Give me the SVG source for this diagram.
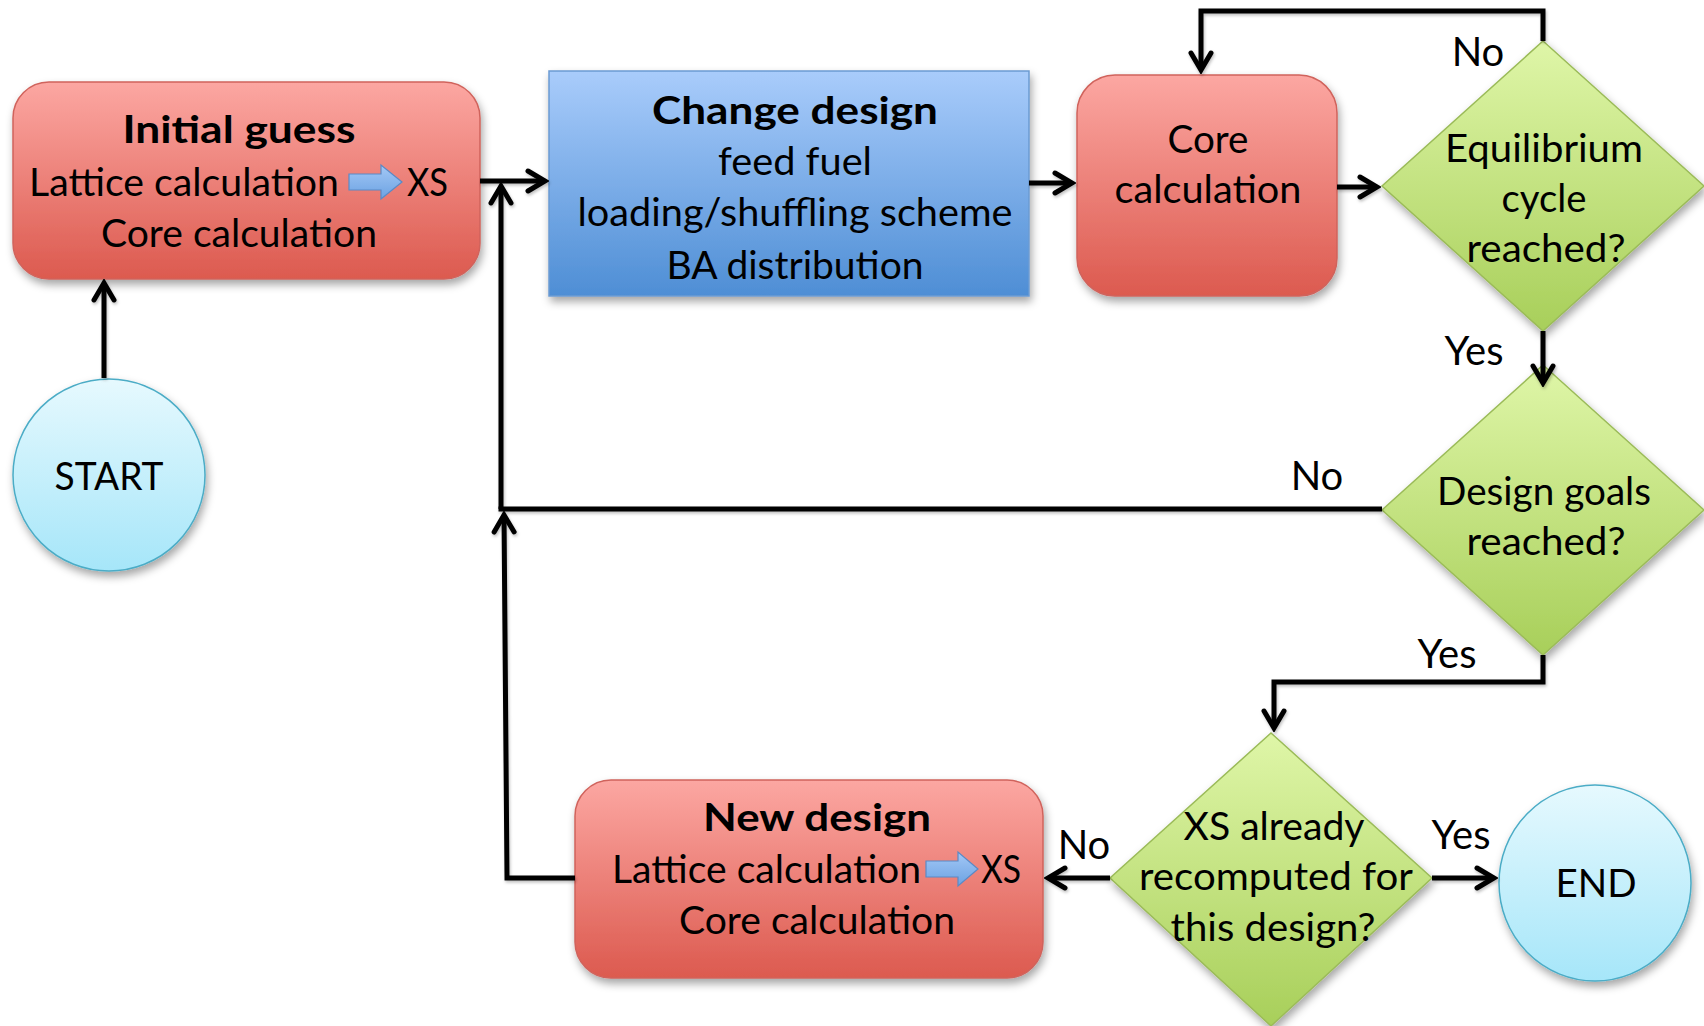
<svg xmlns="http://www.w3.org/2000/svg" width="1704" height="1026" viewBox="0 0 1704 1026">
  <style>
    .t { font-family: Lato, "Open Sans", "Liberation Sans", sans-serif; font-size: 38px; fill: #000; text-anchor: middle; }
    .lab { font-size: 40px; }
    .b { font-weight: bold; }
    .l { text-anchor: start; }
    .red { fill: url(#gRed); stroke: #D0635C; stroke-width: 1.5; filter: url(#shadow); }
    .blue { fill: url(#gBlue); stroke: #6B9BD2; stroke-width: 1.5; filter: url(#shadow); }
    .green { fill: url(#gGreen); stroke: #9BBB59; stroke-width: 1.5; filter: url(#shadow); }
    .cyan { fill: url(#gCyan); stroke: #4BACC6; stroke-width: 1.5; filter: url(#shadow); }
    .conn { fill: none; stroke: #000; stroke-width: 5; }
    .arr { marker-end: url(#head); }
    .xsArrow { fill: url(#gArrow); stroke: #5A8AC6; stroke-width: 1.2; }
  </style>
  <defs>
    <linearGradient id="gRed" x1="0" y1="0" x2="0" y2="1">
      <stop offset="0" stop-color="#FCA7A2"/>
      <stop offset="1" stop-color="#DC5A4F"/>
    </linearGradient>
    <linearGradient id="gBlue" x1="0" y1="0" x2="0" y2="1">
      <stop offset="0" stop-color="#A9CCFB"/>
      <stop offset="1" stop-color="#4E8ED5"/>
    </linearGradient>
    <linearGradient id="gGreen" x1="0" y1="0" x2="0" y2="1">
      <stop offset="0" stop-color="#DFF6A8"/>
      <stop offset="1" stop-color="#A8CF5A"/>
    </linearGradient>
    <linearGradient id="gCyan" x1="0" y1="0" x2="0" y2="1">
      <stop offset="0" stop-color="#E6F9FE"/>
      <stop offset="1" stop-color="#A6E6F9"/>
    </linearGradient>
    <linearGradient id="gArrow" x1="0" y1="0" x2="0" y2="1">
      <stop offset="0" stop-color="#A4C8F6"/>
      <stop offset="1" stop-color="#6BA2E2"/>
    </linearGradient>
    <filter id="shadow" x="-10%" y="-10%" width="125%" height="130%">
      <feDropShadow dx="2" dy="5" stdDeviation="4" flood-color="#000" flood-opacity="0.35"/>
    </filter>
    <filter id="lineShadow" x="-5%" y="-5%" width="110%" height="110%">
      <feDropShadow dx="1" dy="2" stdDeviation="1.5" flood-color="#000" flood-opacity="0.25"/>
    </filter>
    <marker id="head" viewBox="-24 -16 28 32" markerWidth="28" markerHeight="32" refX="0" refY="0" orient="auto" markerUnits="userSpaceOnUse">
      <path d="M-17,-10 L0,0 L-17,10" fill="none" stroke="#000" stroke-width="5" stroke-linecap="round" stroke-linejoin="miter"/>
    </marker>
  </defs>

  <rect width="1704" height="1026" fill="#fff"/>

  <g id="start">
    <circle class="cyan" cx="109" cy="475" r="96"/>
    <text class="t" x="109" y="490" textLength="109" lengthAdjust="spacingAndGlyphs">START</text>
  </g>

  <g id="initial-guess">
    <rect class="red" x="13" y="82" width="467" height="197" rx="36"/>
    <text class="t b" x="239" y="143" textLength="233" lengthAdjust="spacingAndGlyphs">Initial guess</text>
    <text class="t l" x="29" y="196" textLength="310" lengthAdjust="spacingAndGlyphs">Lattice calculation</text>
    <path class="xsArrow" d="M349,174 L381,174 L381,165 L402,182 L381,199 L381,190 L349,190 Z"/>
    <text class="t l" x="407" y="196" textLength="41" lengthAdjust="spacingAndGlyphs">XS</text>
    <text class="t" x="239" y="247" textLength="276" lengthAdjust="spacingAndGlyphs">Core calculation</text>
  </g>

  <g id="change-design">
    <rect class="blue" x="549" y="71" width="480" height="225"/>
    <text class="t b" x="795" y="124" textLength="286" lengthAdjust="spacingAndGlyphs">Change design</text>
    <text class="t" x="795" y="175" textLength="154" lengthAdjust="spacingAndGlyphs">feed fuel</text>
    <text class="t" x="795" y="226" textLength="435" lengthAdjust="spacingAndGlyphs">loading/shuffling scheme</text>
    <text class="t" x="795" y="279" textLength="257" lengthAdjust="spacingAndGlyphs">BA distribution</text>
  </g>

  <g id="core-calculation">
    <rect class="red" x="1077" y="75" width="260" height="221" rx="38"/>
    <text class="t" x="1208" y="153" textLength="81" lengthAdjust="spacingAndGlyphs">Core</text>
    <text class="t" x="1208" y="203" textLength="187" lengthAdjust="spacingAndGlyphs">calculation</text>
  </g>

  <g id="equilibrium">
    <polygon class="green" points="1543,41 1704,186 1543,331 1382,186"/>
    <text class="t" x="1544" y="162" textLength="198" lengthAdjust="spacingAndGlyphs">Equilibrium</text>
    <text class="t" x="1544" y="212" textLength="85" lengthAdjust="spacingAndGlyphs">cycle</text>
    <text class="t" x="1546" y="262" textLength="159" lengthAdjust="spacingAndGlyphs">reached?</text>
  </g>

  <g id="design-goals">
    <polygon class="green" points="1543,365 1704,510 1543,655 1382,510"/>
    <text class="t" x="1544" y="505" textLength="214" lengthAdjust="spacingAndGlyphs">Design goals</text>
    <text class="t" x="1546" y="555" textLength="159" lengthAdjust="spacingAndGlyphs">reached?</text>
  </g>

  <g id="xs-recomputed">
    <polygon class="green" points="1271,733 1432,878 1271,1026 1110,878"/>
    <text class="t" x="1274" y="840" textLength="181" lengthAdjust="spacingAndGlyphs">XS already</text>
    <text class="t" x="1276" y="890" textLength="274" lengthAdjust="spacingAndGlyphs">recomputed for</text>
    <text class="t" x="1273" y="941" textLength="205" lengthAdjust="spacingAndGlyphs">this design?</text>
  </g>

  <g id="end">
    <ellipse class="cyan" cx="1595" cy="883" rx="96" ry="98"/>
    <text class="t" x="1596" y="897" textLength="81" lengthAdjust="spacingAndGlyphs">END</text>
  </g>

  <g id="new-design">
    <rect class="red" x="575" y="780" width="468" height="198" rx="36"/>
    <text class="t b" x="817" y="831" textLength="228" lengthAdjust="spacingAndGlyphs">New design</text>
    <text class="t l" x="612" y="883" textLength="309" lengthAdjust="spacingAndGlyphs">Lattice calculation</text>
    <path class="xsArrow" d="M926,861 L958,861 L958,852 L978,869 L958,886 L958,877 L926,877 Z"/>
    <text class="t l" x="981" y="883" textLength="40" lengthAdjust="spacingAndGlyphs">XS</text>
    <text class="t" x="817" y="934" textLength="276" lengthAdjust="spacingAndGlyphs">Core calculation</text>
  </g>

  <!-- connectors, drawn over the shapes -->
  <g id="connectors" filter="url(#lineShadow)">
    <path class="conn arr" d="M104,378 L104,283"/>
    <path class="conn arr" d="M480,181 L545,181"/>
    <path class="conn arr" d="M501,509 L501,186"/>
    <path class="conn arr" d="M575,878 L507,878 L504,515"/>
    <path class="conn" d="M1382,509 L498.5,509"/>
    <path class="conn arr" d="M1029,183 L1072,183"/>
    <path class="conn arr" d="M1337,187 L1377,187"/>
    <path class="conn arr" d="M1543,41 L1543,11 L1201,11 L1201,70"/>
    <path class="conn arr" d="M1543,331 L1543,383"/>
    <path class="conn arr" d="M1543,655 L1543,682 L1274,682 L1274,728"/>
    <path class="conn arr" d="M1110,878 L1048,878"/>
    <path class="conn arr" d="M1432,878 L1494,878"/>
  </g>

  <!-- branch labels -->
  <g id="labels">
    <text class="t lab" x="1478" y="66">No</text>
    <text class="t lab" x="1474" y="365">Yes</text>
    <text class="t lab" x="1317" y="490">No</text>
    <text class="t lab" x="1447" y="668">Yes</text>
    <text class="t lab" x="1084" y="859">No</text>
    <text class="t lab" x="1461" y="849">Yes</text>
  </g>
</svg>
